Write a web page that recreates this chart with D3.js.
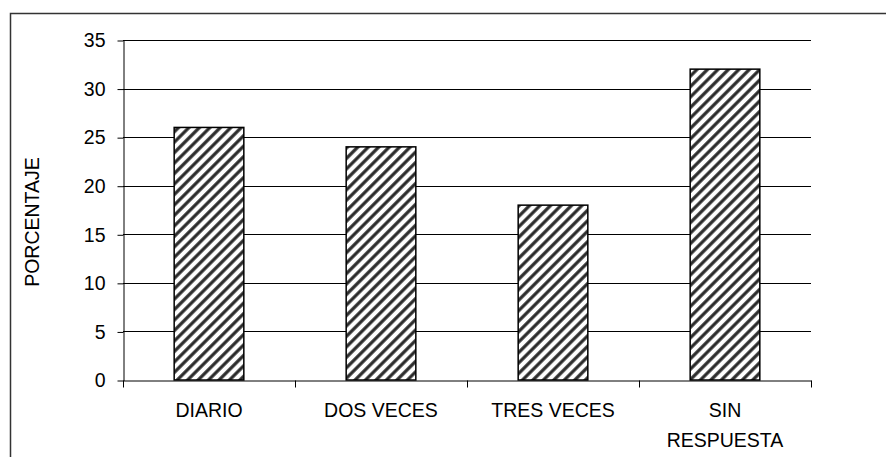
<!DOCTYPE html>
<html>
<head>
<meta charset="utf-8">
<script src="https://cdn.jsdelivr.net/npm/d3@7"></script>
<style>
  body { margin: 0; background: #fff; }
  svg { display: block; font-family: "Liberation Sans", Arial, sans-serif; }
</style>
</head>
<body>
<script>
const categories = [['DIARIO'], ['DOS VECES'], ['TRES VECES'], ['SIN', 'RESPUESTA']];
const values = [26, 24, 18, 32];
const yTicks = [0, 5, 10, 15, 20, 25, 30, 35];
const yTitle = 'PORCENTAJE';

const width = 886;
const height = 457;
const margin = {top: 40, right: 75, bottom: 77, left: 123};
const fontSize = 19.5;

const svg = d3.select('body').append('svg')
  .attr('width', width)
  .attr('height', height);

// hatch fill
const hp = 7.4;
svg.append('defs').append('pattern')
  .attr('id', 'hatch')
  .attr('patternUnits', 'userSpaceOnUse')
  .attr('width', hp)
  .attr('height', hp)
  .attr('patternTransform', 'rotate(45)')
  .call(p => {
    p.append('rect').attr('width', hp).attr('height', hp).attr('fill', '#fff');
    p.append('line')
      .attr('x1', 1.8).attr('y1', 0).attr('x2', 1.8).attr('y2', hp)
      .attr('stroke', '#2a2a2a').attr('stroke-width', 3.2);
  });

// outer frame (continues past the right and bottom edges)
svg.append('rect')
  .attr('x', 10.5)
  .attr('y', 13.5)
  .attr('width', 1000)
  .attr('height', 1000)
  .attr('fill', 'none')
  .attr('stroke', '#333')
  .attr('stroke-width', 1.5);

const x = d3.scaleBand()
  .domain(d3.range(categories.length))
  .range([margin.left, width - margin.right]);

const y = d3.scaleLinear()
  .domain([0, 35])
  .range([height - margin.bottom, margin.top]);

// grid lines
svg.append('g')
  .selectAll('line')
  .data(yTicks.filter(d => d > 0))
  .enter()
  .append('line')
  .attr('x1', margin.left)
  .attr('x2', width - margin.right)
  .attr('y1', d => Math.round(y(d)) + 0.5)
  .attr('y2', d => Math.round(y(d)) + 0.5)
  .attr('stroke', '#000')
  .attr('stroke-width', 1);

// bars
const barW = x.step() * 0.405;
svg.append('g')
  .selectAll('rect')
  .data(values)
  .enter()
  .append('rect')
  .attr('x', (d, i) => x(i) + (x.step() - barW) / 2)
  .attr('y', d => y(d))
  .attr('width', barW)
  .attr('height', d => y(0) - y(d))
  .attr('fill', 'url(#hatch)')
  .attr('stroke', '#000')
  .attr('stroke-width', 1.5);

// y axis
const yAxis = svg.append('g')
  .attr('transform', `translate(${margin.left + 0.5},0.5)`)
  .call(d3.axisLeft(y).tickValues(yTicks).tickSize(6).tickPadding(12).tickSizeOuter(0));
yAxis.select('.domain').attr('stroke', '#000');
yAxis.selectAll('.tick line').attr('stroke', '#000');
yAxis.selectAll('.tick text')
  .attr('font-size', fontSize)
  .attr('font-family', '"Liberation Sans", Arial, sans-serif')
  .attr('fill', '#000');

// x axis
const xAxis = svg.append('g')
  .attr('transform', `translate(0,${Math.round(y(0)) + 0.5})`)
  .call(d3.axisBottom(x).tickValues([]).tickSizeOuter(0));
xAxis.select('.domain').attr('stroke', '#000');

const xTickPos = d3.range(categories.length + 1).map(i => margin.left + i * x.step());
xAxis.selectAll('.sep')
  .data(xTickPos)
  .enter()
  .append('line')
  .attr('class', 'sep')
  .attr('x1', d => Math.round(d) + 0.5)
  .attr('x2', d => Math.round(d) + 0.5)
  .attr('y1', 0)
  .attr('y2', 7)
  .attr('stroke', '#000');

// category labels
svg.append('g')
  .selectAll('text')
  .data(categories)
  .enter()
  .append('text')
  .attr('text-anchor', 'middle')
  .attr('font-size', fontSize)
  .attr('fill', '#000')
  .each(function (lines, i) {
    d3.select(this).selectAll('tspan')
      .data(lines)
      .enter()
      .append('tspan')
      .attr('x', x(i) + x.step() / 2)
      .attr('y', (d, j) => 417 + j * 30)
      .text(d => d);
  });

// y title
svg.append('text')
  .attr('transform', `translate(39,${(margin.top + height - margin.bottom) / 2 + 12}) rotate(-90)`)
  .attr('text-anchor', 'middle')
  .attr('font-size', fontSize)
  .attr('fill', '#000')
  .text(yTitle);
</script>
</body>
</html>
